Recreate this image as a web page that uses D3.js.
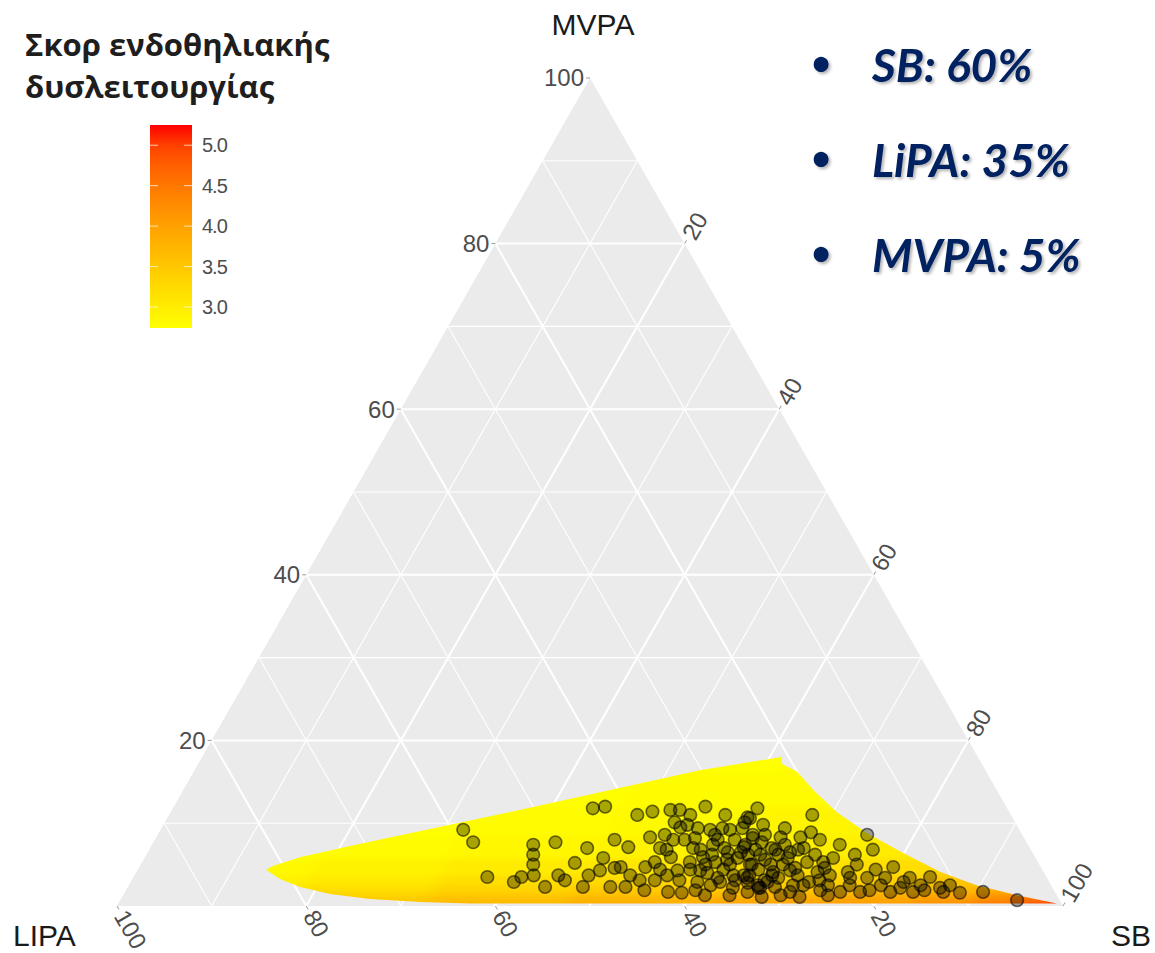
<!DOCTYPE html>
<html>
<head>
<meta charset="utf-8">
<script src="https://cdn.jsdelivr.net/npm/d3@7"></script>
<style>
  body { margin: 0; background: #fff; }
</style>
</head>
<body>
<div id="chart"></div>
<script>
// axis ticks and grid levels (percent)
var axisTicks = [20, 40, 60, 80, 100];
var gridLevels = [10, 20, 30, 40, 50, 60, 70, 80, 90];

// legend
var legendTitle = ["Σκορ ενδοθηλιακής", "δυσλειτουργίας"];
var legendTicks = [3.0, 3.5, 4.0, 4.5, 5.0];
var scoreRange = [2.74, 5.25];

// bullet text on the right
var bullets = ["SB: 60%", "LiPA: 35%", "MVPA: 5%"];

// predicted surface: outline of the area (SB, MVPA), LIPA = 100 - SB - MVPA
var regionOutline = [
  [13.6, 4.35], [14.0, 4.8], [16.4, 5.9], [21.0, 7.25], [30.3, 9.8], [39.6, 12.4], [53.4, 16.4],
  [61.3, 18.0], [61.6, 17.2], [63.8, 16.2], [66.6, 14.0], [70.4, 11.35], [74.9, 8.8], [79.9, 6.4],
  [85.0, 4.1], [89.6, 2.5], [94.5, 1.3], [99.2, 0.3], [37.2, 0.3], [31.8, 0.48], [26.3, 0.85],
  [21.8, 1.45], [18.2, 2.3], [15.6, 3.26]
];

// predicted score on a grid of MVPA rows and SB columns
var surfaceMVPA = [0.3, 1, 2, 3, 4.5, 7, 10, 14, 19];
var surfaceSB = [12, 25, 40, 55, 70, 80, 88, 93, 97, 100];
var surfaceScore = [
  [3.40, 3.55, 3.72, 3.87, 3.97, 4.07, 4.22, 4.47, 4.82, 5.25],
  [3.25, 3.40, 3.55, 3.70, 3.80, 3.88, 4.00, 4.20, 4.50, 5.00],
  [3.05, 3.20, 3.35, 3.45, 3.55, 3.60, 3.70, 3.85, 4.10, 4.50],
  [2.92, 3.05, 3.18, 3.25, 3.35, 3.40, 3.50, 3.60, 3.80, 4.10],
  [2.82, 2.92, 3.02, 3.08, 3.15, 3.20, 3.30, 3.40, 3.55, 3.85],
  [2.75, 2.80, 2.85, 2.90, 2.95, 3.00, 3.10, 3.20, 3.30, 3.50],
  [2.74, 2.76, 2.80, 2.83, 2.88, 2.90, 3.00, 3.10, 3.20, 3.30],
  [2.74, 2.74, 2.76, 2.78, 2.80, 2.85, 2.90, 3.00, 3.10, 3.20],
  [2.74, 2.74, 2.74, 2.74, 2.75, 2.78, 2.80, 2.90, 3.00, 3.10]
];

// observed participants (SB, MVPA)
var observed = [
  [32.0,9.2],[33.8,7.7],[37.4,3.5],[40.5,2.9],[41.0,3.5],[42.2,3.7],[41.5,5.0],[40.9,6.2],[40.3,7.4],[44.1,2.3],
  [42.5,7.7],[44.8,3.7],[45.8,5.2],[48.1,2.3],[46.2,7.0],[48.0,3.7],[44.4,11.8],[45.6,12.0],[48.5,5.8],[51.0,2.3],
  [50.9,4.7],[52.6,2.3],[49.5,11.0],[50.9,11.4],[50.5,7.1],[53.5,4.7],[52.2,8.3],[57.4,1.7],[58.9,1.6],[52.7,11.6],
  [53.7,11.6],[54.7,6.8],[54.8,8.0],[54.8,9.5],[56.2,12.0],[53.9,7.0],[55.6,5.9],[55.4,9.8],[57.1,4.3],[56.3,3.7],
  [57.4,7.0],[56.7,9.4],[59.0,5.9],[60.4,4.0],[61.5,2.5],[59.3,7.4],[59.3,9.4],[61.7,5.6],[63.3,3.7],[62.7,6.5],
  [61.4,9.4],[61.6,10.6],[63.1,8.2],[64.6,5.0],[65.3,2.8],[61.8,11.8],[64.0,2.2],[62.3,2.9],[59.9,2.9],[66.7,2.2],
  [61.3,10.7],[63.4,9.8],[62.9,8.6],[62.7,7.1],[68.0,11.0],[68.9,8.9],[68.1,8.3],[66.0,8.3],[65.7,7.0],[64.9,6.2],
  [64.4,5.0],[64.4,3.7],[67.9,6.5],[67.9,5.0],[67.3,4.1],[67.3,2.9],[66.5,2.5],[65.8,1.7],[70.1,3.7],[70.3,5.3],
  [72.0,4.1],[71.3,2.5],[70.3,1.7],[69.5,1.3],[73.9,2.5],[72.8,5.8],[72.7,7.4],[75.2,4.1],[75.6,1.7],[74.5,1.3],
  [75.7,5.0],[75.0,8.6],[76.5,6.8],[77.6,3.4],[77.7,1.7],[79.5,2.5],[79.7,4.7],[80.9,1.7],[81.7,2.9],[83.3,1.7],
  [83.7,2.5],[84.2,3.5],[85.9,2.2],[86.5,1.7],[88.3,1.6],[90.7,1.7],[94.8,0.7],[63.6,6.2],[64.9,3.4],[66.9,2.2],
  [67.4,3.7],[57.9,5.3],[59.5,4.3],[60.6,5.3],[60.7,7.0],[61.3,8.0],[62.3,5.0],[61.8,3.4],[65.7,5.6],[66.8,6.2],
  [69.0,4.3],[71.7,2.9],[56.0,8.0],[58.9,8.6],[60.2,1.9],[68.4,2.3],[73.4,1.9],[76.2,2.5],[53.7,3.1],[54.2,5.3],
  [48.9,4.3],[45.8,3.1],[48.6,8.0],[55.1,11.0],[58.8,11.0],[69.1,7.0],[72.5,4.6],[78.6,1.9],[81.7,2.2],[64.1,1.3],
  [67.6,1.1],[71.6,1.1],[61.5,1.3],
  [53.6,8.6],[53.9,10.1],[57.0,8.2],[59.7,5.0],[59.8,6.2],[59.5,8.0],[61.9,4.4],[61.3,6.5],[63.8,3.1],[62.7,5.8],
  [62.7,7.4],[65.0,3.7],[64.1,6.8],[65.6,4.4],[64.3,7.7],[66.9,3.1],[66.6,5.0],[66.2,6.8],[68.2,3.4],[66.9,7.4],
  [68.0,5.8],[70.2,2.5],[69.4,4.6],[68.6,6.8],[70.7,6.2],[72.7,3.1],[72.0,5.3],[73.5,3.7],[58.3,6.8],[58.4,4.4],
  [57.9,3.1],[55.2,4.4],[55.3,3.1],[58.1,9.2],[60.2,9.2],[61.3,10.1],[64.2,8.6],[65.9,9.4],[70.3,8.0],[75.8,3.4],
  [74.9,6.2],[78.0,4.4],[79.5,3.4],[82.1,3.4],[84.4,1.9],[86.8,2.5],[54.8,1.9],[52.4,3.7],[50.3,4.6]
];

var width = 1155, height = 953;

var svg = d3.select("#chart").append("svg")
  .attr("width", width)
  .attr("height", height)
  .style("font-family", "'Liberation Sans', Arial, sans-serif");

// ternary scales: x runs along the LIPA/SB base, y is MVPA height
var x = d3.scaleLinear().domain([0, 100]).range([117, 1063]);
var y = d3.scaleLinear().domain([0, 100]).range([906, 78]);
function project(sb, mvpa) { return [x(sb + mvpa / 2), y(mvpa)]; }

var color = d3.scaleLinear()
  .domain(scoreRange)
  .range(["#ffff00", "#ff0000"])
  .interpolate(d3.interpolateLab)
  .clamp(true);

var line = d3.line();
var defs = svg.append("defs");

// background triangle
svg.append("path")
  .attr("d", line([project(0, 0), project(100, 0), project(0, 100)]) + "Z")
  .attr("fill", "#ebebeb");

// grid lines for the three components
var grid = svg.append("g").attr("stroke", "#fff").attr("fill", "none");
gridLevels.forEach(function(v) {
  var w = v % 20 === 0 ? 2 : 1.1;
  grid.append("path").attr("stroke-width", w)
    .attr("d", line([project(0, v), project(100 - v, v)]));
  grid.append("path").attr("stroke-width", w)
    .attr("d", line([project(v, 0), project(v, 100 - v)]));
  grid.append("path").attr("stroke-width", w)
    .attr("d", line([project(100 - v, 0), project(0, 100 - v)]));
});

// predicted surface, drawn as cells, smoothed and clipped to its outline
defs.append("clipPath").attr("id", "region")
  .append("path")
  .attr("d", line(regionOutline.map(function(p) { return project(p[0], p[1]); })) + "Z");

var blur = defs.append("filter").attr("id", "smooth")
  .attr("filterUnits", "userSpaceOnUse")
  .attr("x", 0).attr("y", 0).attr("width", width).attr("height", height);
blur.append("feGaussianBlur").attr("stdDeviation", "8 2.5");

function edges(nodes, lo, hi) {
  var e = [lo];
  for (var i = 1; i < nodes.length; i++) e.push((nodes[i - 1] + nodes[i]) / 2);
  e.push(hi);
  return e;
}
var mEdges = edges(surfaceMVPA, -3, 26);
var sEdges = edges(surfaceSB, 0, 112);

var cells = [];
surfaceScore.forEach(function(row, i) {
  row.forEach(function(score, j) {
    cells.push({ m0: mEdges[i], m1: mEdges[i + 1], s0: sEdges[j], s1: sEdges[j + 1], score: score });
  });
});

svg.append("g")
  .attr("clip-path", "url(#region)")
  .append("g")
  .attr("filter", "url(#smooth)")
  .selectAll("path")
  .data(cells)
  .enter()
  .append("path")
    .attr("d", function(d) {
      return line([project(d.s0, d.m0), project(d.s1, d.m0), project(d.s1, d.m1), project(d.s0, d.m1)]) + "Z";
    })
    .attr("fill", function(d) { return color(d.score); })
    .attr("stroke", function(d) { return color(d.score); })
    .attr("stroke-width", 1);

// observed points
svg.append("g")
  .selectAll("circle")
  .data(observed)
  .enter()
  .append("circle")
    .attr("cx", function(d) { return project(d[0], d[1])[0]; })
    .attr("cy", function(d) { return project(d[0], d[1])[1]; })
    .attr("r", 6.3)
    .attr("fill", "#000")
    .attr("fill-opacity", 0.34)
    .attr("stroke", "#000")
    .attr("stroke-opacity", 0.55)
    .attr("stroke-width", 1.6);

// axis ticks and labels
var tickColor = "#9a9a9a", labelColor = "#4d4d4d", off = 7, tl = 4;
var axes = svg.append("g").attr("font-size", 24).attr("fill", labelColor);

axisTicks.forEach(function(v) {
  // MVPA on the left edge, horizontal labels
  var p = project(0, v);
  axes.append("line").attr("x1", p[0]).attr("y1", p[1]).attr("x2", p[0] - tl).attr("y2", p[1])
    .attr("stroke", tickColor);
  axes.append("text").attr("x", p[0] - off + 1).attr("y", p[1]).attr("dy", "0.35em")
    .attr("text-anchor", "end").text(v);

  // LIPA on the bottom edge, labels turned down the grid line
  var q = project(100 - v, 0);
  var dq = [Math.cos(Math.PI / 3), Math.sin(Math.PI / 3)];
  axes.append("line").attr("x1", q[0]).attr("y1", q[1]).attr("x2", q[0] + dq[0] * tl).attr("y2", q[1] + dq[1] * tl)
    .attr("stroke", tickColor);
  axes.append("text")
    .attr("transform", "translate(" + (q[0] + dq[0] * off) + "," + (q[1] + dq[1] * off) + ") rotate(60)")
    .attr("dy", "0.35em").text(v);

  // SB on the right edge, labels turned up the grid line
  var r = project(v, 100 - v);
  var dr = [Math.cos(Math.PI / 3), -Math.sin(Math.PI / 3)];
  axes.append("line").attr("x1", r[0]).attr("y1", r[1]).attr("x2", r[0] + dr[0] * tl).attr("y2", r[1] + dr[1] * tl)
    .attr("stroke", tickColor);
  axes.append("text")
    .attr("transform", "translate(" + (r[0] + dr[0] * off) + "," + (r[1] + dr[1] * off) + ") rotate(-60)")
    .attr("dy", "0.35em").text(v);
});

// vertex titles
var titles = svg.append("g").attr("font-size", 30).attr("fill", "#1a1a1a");
titles.append("text").attr("x", 593).attr("y", 35).attr("text-anchor", "middle").text("MVPA");
titles.append("text").attr("x", 13).attr("y", 946).text("LIPA");
titles.append("text").attr("x", 1111).attr("y", 946).text("SB");

// legend
var legend = svg.append("g");
legend.selectAll("text.title")
  .data(legendTitle)
  .enter()
  .append("text")
    .attr("class", "title")
    .attr("x", 25)
    .attr("y", function(d, i) { return 56 + i * 42; })
    .attr("font-family", "'Open Sans', 'Noto Sans', sans-serif")
    .attr("font-weight", "bold")
    .attr("font-size", 31)
    .attr("fill", "#1e1e1e")
    .text(function(d) { return d; });

var ly = d3.scaleLinear().domain(scoreRange).range([328, 125]);
var grad = defs.append("linearGradient").attr("id", "bar")
  .attr("x1", 0).attr("y1", 1).attr("x2", 0).attr("y2", 0);
d3.range(0, 1.0001, 0.1).forEach(function(t) {
  grad.append("stop").attr("offset", t)
    .attr("stop-color", color(scoreRange[0] + t * (scoreRange[1] - scoreRange[0])));
});
legend.append("rect")
  .attr("x", 150).attr("y", ly(scoreRange[1]))
  .attr("width", 42).attr("height", ly(scoreRange[0]) - ly(scoreRange[1]))
  .attr("fill", "url(#bar)");
legendTicks.forEach(function(v) {
  legend.append("line").attr("x1", 150).attr("x2", 158).attr("y1", ly(v)).attr("y2", ly(v))
    .attr("stroke", "#fff").attr("stroke-opacity", 0.7);
  legend.append("line").attr("x1", 184).attr("x2", 192).attr("y1", ly(v)).attr("y2", ly(v))
    .attr("stroke", "#fff").attr("stroke-opacity", 0.7);
  legend.append("text").attr("x", 202).attr("y", ly(v)).attr("dy", "0.35em")
    .attr("font-size", 20).attr("fill", labelColor).attr("letter-spacing", -1)
    .text(v.toFixed(1));
});

// bullet list with soft shadow
var shadow = defs.append("filter").attr("id", "shadow").attr("x", "-10%").attr("y", "-20%")
  .attr("width", "130%").attr("height", "150%");
shadow.append("feDropShadow").attr("dx", 2).attr("dy", 2).attr("stdDeviation", 1.5)
  .attr("flood-color", "#000").attr("flood-opacity", 0.3);

var list = svg.append("g").attr("fill", "#002060").attr("filter", "url(#shadow)");
bullets.forEach(function(b, i) {
  var by = 82 + i * 95;
  list.append("text").attr("x", 821).attr("y", by - 5).attr("text-anchor", "middle")
    .attr("font-family", "Lato, sans-serif").attr("font-size", 40).text("•");
  list.append("text").attr("x", 872).attr("y", by)
    .attr("font-family", "Lato, sans-serif").attr("font-weight", "bold").attr("font-style", "italic")
    .attr("font-size", 46).text(b);
});
</script>
</body>
</html>
